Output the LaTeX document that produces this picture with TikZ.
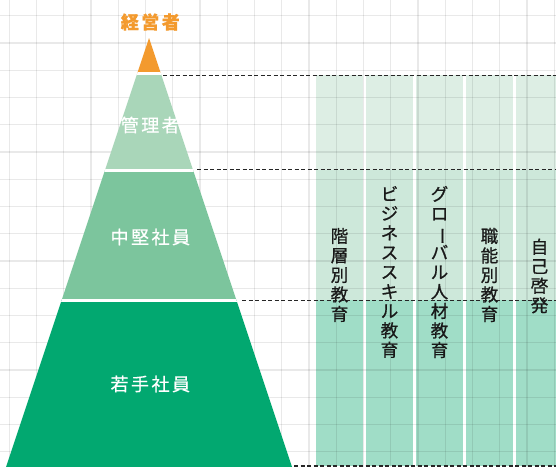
\documentclass[tikz,border=0pt]{standalone}
\usepackage{fontspec}
\usepackage{graphicx}
\setmainfont{Noto Sans CJK JP}
\newfontfamily\jpwide[LetterSpace=14, FakeBold=0.6]{Noto Sans CJK JP}
\newfontfamily\jpmed[FakeBold=0.8]{Noto Sans CJK JP}
\def\chobar{\rotatebox[origin=c]{-90}{ー}}
\definecolor{execorange}{HTML}{F39A2E}
\definecolor{mgrgreen}{HTML}{A9D6B9}
\definecolor{midgreen}{HTML}{7CC59D}
\definecolor{younggreen}{HTML}{02A870}
\definecolor{coltop}{HTML}{DDEEE4}
\definecolor{colmid}{HTML}{CDE8DA}
\definecolor{colbot}{HTML}{A0DDC7}
\def\gridstep{27.25}

\begin{document}
\begin{tikzpicture}[x=1pt, y=-1pt,
    gridline/.style={black, opacity=0.085, line width=1.3pt},
    tierline/.style={dash pattern=on 4pt off 2.5pt, black!85, line width=1.2pt},
    tierlabel/.style={white, font=\jpwide\fontsize{18}{20}\selectfont, inner sep=0pt, xshift=1.3pt},
    coursetext/.style={black!90, align=center, inner sep=0pt,
      font=\jpmed\fontsize{17.5}{19.5}\selectfont}]
      \useasboundingbox (0,0) rectangle (556,467);
      \fill[white] (0,0) rectangle (556,467);
      % course columns
      \foreach \i in {0,...,4} {
        \fill[coltop] (316+50*\i,75) rectangle (363+50*\i,170);
        \fill[colmid] (316+50*\i,170) rectangle (363+50*\i,300);
        \fill[colbot] (316+50*\i,300) rectangle (363+50*\i,466);
      }
      % background grid
      \foreach \k in {0,...,20}
        \draw[gridline] (9.3+\gridstep*\k,0) -- (9.3+\gridstep*\k,467);
      \foreach \k in {0,...,16}
        \draw[gridline] (0,15.7+\gridstep*\k) -- (556,15.7+\gridstep*\k);
      % pyramid
      \begin{scope}
        \clip (149,38) -- (292,467) -- (6,467) -- cycle;
        \fill[execorange] (0,0) rectangle (556,73.7);
        \fill[mgrgreen] (0,73.7) rectangle (556,170.2);
        \fill[midgreen] (0,170.2) rectangle (556,300.3);
        \fill[younggreen] (0,300.3) rectangle (556,467);
        \draw[white, line width=2.8pt] (0,73.7) -- (556,73.7);
        \draw[white, line width=2.8pt] (0,170.2) -- (556,170.2);
        \draw[white, line width=2.8pt] (0,300.3) -- (556,300.3);
      \end{scope}
      % tier boundaries
      \draw[tierline] (163,75.5) -- (556,75.5);
      \draw[tierline] (197,169.8) -- (556,169.8);
      \draw[tierline] (242,300.8) -- (556,300.8);
      \draw[tierline] (294,466) -- (556,466);
      % tier labels
      \node[execorange, inner sep=0pt, xshift=1.3pt, font=\jpwide\bfseries\fontsize{18}{20}\selectfont] (exec) at (149,22) {経営者};
      \node[tierlabel] (mgr) at (149,125) {管理者};
      \node[tierlabel] (mid) at (149,237) {中堅社員};
      \node[tierlabel] (young) at (149,384) {若手社員};
      % courses
      \node[coursetext] (rank) at (339.5,275) {階\\層\\別\\教\\育};
      \node[coursetext] (biz) at (389.5,272) {ビ\\ジ\\ネ\\ス\\ス\\キ\\ル\\教\\育};
      \node[coursetext] (glob) at (439.5,272) {グ\\ロ\\\chobar\\バ\\ル\\人\\材\\教\\育};
      \node[coursetext] (func) at (489.5,275) {職\\能\\別\\教\\育};
      \node[coursetext] (self) at (539.5,276) {自\\己\\啓\\発};
    \end{tikzpicture}
\end{document}
